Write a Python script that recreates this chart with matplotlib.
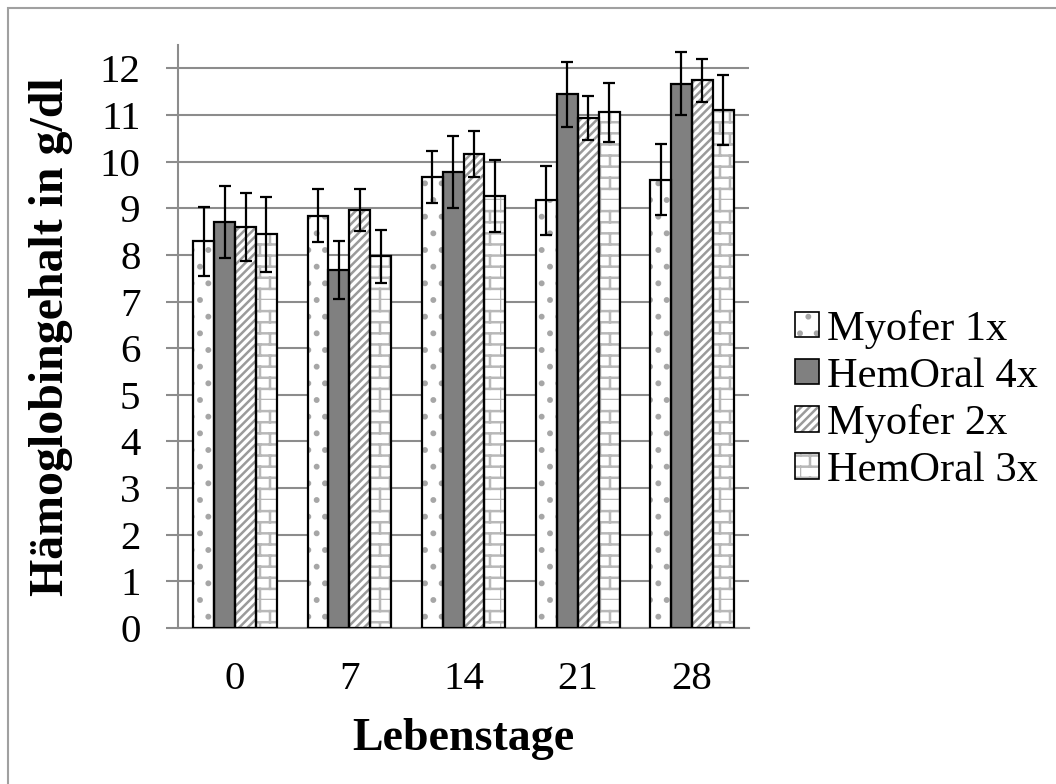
import numpy as np
import matplotlib.pyplot as plt
import matplotlib.hatch as mhatch
from matplotlib.path import Path
from matplotlib.patches import Rectangle
from matplotlib.legend_handler import HandlerTuple

plt.rcParams['font.family'] = ['Liberation Serif', 'DejaVu Serif']
plt.rcParams['hatch.linewidth'] = 1.8


# Ziegelmuster (wie in Excel) fuer das Zeichen '-'
class BrickHatch(mhatch.HatchPatternBase):
    rows = 9
    cols = 5

    def __init__(self, hatch, density):
        if '-' in hatch:
            self.num_vertices = (self.rows + self.rows * self.cols) * 2
        else:
            self.num_vertices = 0

    def set_vertices_and_codes(self, vertices, codes):
        k = 0
        for r in range(self.rows):
            y0 = r / self.rows
            y1 = (r + 1) / self.rows
            vertices[k] = (0, y0)
            vertices[k + 1] = (1, y0)
            k += 2
            for c in range(self.cols):
                xv = (c + 0.5 * (r % 2)) / self.cols
                vertices[k] = (xv, y0)
                vertices[k + 1] = (xv, y1)
                k += 2
        codes[0::2] = Path.MOVETO
        codes[1::2] = Path.LINETO


try:
    mhatch._hatch_types = [BrickHatch if t is mhatch.HorizontalHatch else t
                           for t in mhatch._hatch_types]
    brick = '-'
except AttributeError:
    brick = '+'

tage = ['0', '7', '14', '21', '28']
gruppen = ['Myofer 1x', 'HemOral 4x', 'Myofer 2x', 'HemOral 3x']
myofer1 = [8.29, 8.84, 9.67, 9.17, 9.61]
hemoral4 = [8.71, 7.68, 9.78, 11.44, 11.67]
myofer2 = [8.60, 8.96, 10.16, 10.94, 11.74]
hemoral3 = [8.44, 7.97, 9.26, 11.06, 11.11]
err_myofer1 = [0.74, 0.57, 0.55, 0.74, 0.76]
err_hemoral4 = [0.77, 0.62, 0.77, 0.70, 0.67]
err_myofer2 = [0.73, 0.45, 0.50, 0.47, 0.46]
err_hemoral3 = [0.81, 0.57, 0.77, 0.63, 0.75]

werte = [myofer1, hemoral4, myofer2, hemoral3]
fehler = [err_myofer1, err_hemoral4, err_myofer2, err_hemoral3]
farben = ['white', '#808080', 'white', 'white']
muster = ['.', None, '////', brick]
musterfarbe = ['#a6a6a6', '#808080', '#9a9a9a', '#b8b8b8']

fig = plt.figure(figsize=(10.56, 7.84), dpi=100)
fig.patches.append(Rectangle((0.008, -0.1), 1.1, 1.09, transform=fig.transFigure,
                             fill=False, edgecolor='#a0a0a0', linewidth=1.5))
ax = fig.add_axes([0.1686, 0.199, 0.5407, 0.7436])

x = np.arange(len(tage))
bw = 0.183
for i in range(4):
    pos = x - 1.5 * bw + i * bw
    # Fuellung mit grauem Muster
    ax.bar(pos, werte[i], bw, color=farben[i], hatch=muster[i],
           edgecolor=musterfarbe[i], linewidth=0, zorder=2)
    # schwarzer Rahmen + Fehlerbalken
    ax.bar(pos, werte[i], bw, fill=False, edgecolor='black', linewidth=1.6,
           yerr=fehler[i], capsize=4.3,
           error_kw=dict(elinewidth=1.6, capthick=1.6, ecolor='black'), zorder=3)

# Legende
handles = []
for i in range(4):
    p1 = Rectangle((0, 0), 1, 1, facecolor=farben[i], hatch=muster[i],
                   edgecolor=musterfarbe[i], linewidth=0)
    p2 = Rectangle((0, 0), 1, 1, fill=False, edgecolor='black', linewidth=1.2)
    handles.append((p1, p2))
fig.legend(handles, gruppen, loc='center left', bbox_to_anchor=(0.733, 0.49),
           frameon=False, fontsize=30.5, handlelength=0.55, handleheight=0.55,
           handletextpad=0.2, labelspacing=0.2, borderpad=0,
           handler_map={tuple: HandlerTuple(ndivide=1, pad=0)})

ax.set_ylim(0, 12.5)
ax.set_xlim(-0.5, 4.5)
ax.set_yticks(range(13))
ax.set_xticks(x)
ax.set_xticklabels(tage)
ax.yaxis.grid(True, color='#8c8c8c', linewidth=1.5, zorder=0)
ax.set_axisbelow(True)
for s in ['top', 'right']:
    ax.spines[s].set_visible(False)
ax.spines['left'].set_color('#8c8c8c')
ax.spines['bottom'].set_color('#8c8c8c')
ax.spines['left'].set_linewidth(1.5)
ax.spines['bottom'].set_linewidth(1.5)
ax.tick_params(axis='y', length=9, width=1.5, color='#8c8c8c', labelsize=29.5, pad=18)
ax.tick_params(axis='x', length=0, labelsize=29.5, pad=24)

ax.set_ylabel('Hämoglobingehalt in g/dl', fontsize=34.5, fontweight='bold', labelpad=19)
ax.set_xlabel('Lebenstage', fontsize=33, fontweight='bold', labelpad=14)

fig.savefig('out.png', dpi=100)
